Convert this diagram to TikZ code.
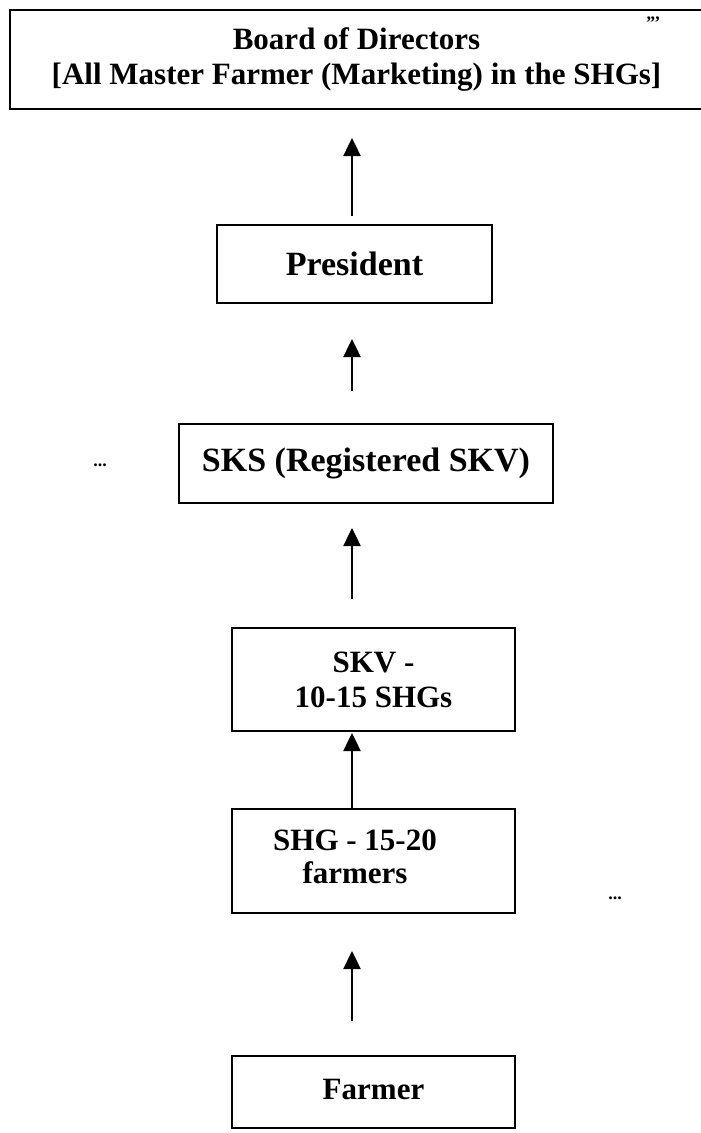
\documentclass[tikz,border=0pt]{standalone}
\usepackage{fontspec}
\setmainfont{Liberation Serif}
\usetikzlibrary{arrows.meta}
\begin{document}
\begin{tikzpicture}[x=1pt,y=-1pt,
  box/.style={draw=black, line width=2pt, rectangle, inner sep=0pt, align=center, font=\bfseries\fontsize{31}{35}\selectfont},
  bigtext/.style={font=\bfseries\fontsize{34}{36}\selectfont},
  lbl/.style={inner sep=0pt, align=center, font=\bfseries\fontsize{31}{33}\selectfont},
  arr/.style={line width=2.5pt, -{Triangle[width=17pt,length=18pt]}},
  dots/.style={inner sep=0pt, font=\bfseries\fontsize{18}{18}\selectfont}
]
\useasboundingbox (0,0) rectangle (701,1133);
\fill[white] (0,0) rectangle (701,1133);

\node[box, minimum width=693pt, minimum height=99pt] (board) at (356.5,59.5)
  {Board of Directors\\{}[All Master Farmer (Marketing) in the SHGs]};
\node[box, bigtext, minimum width=275pt, minimum height=78pt] (pres) at (354.5,264) {President};
\node[box, bigtext, minimum width=374pt, minimum height=79pt] (sks) at (366,463.5) {SKS (Registered SKV)};
\node[box, minimum width=283pt, minimum height=103pt] (skv) at (373.5,679.5) {SKV -\\10-15 SHGs};
\node[box, minimum width=283pt, minimum height=104pt] (shg) at (373.5,861) {};
\node[lbl] (shgt) at (355,857) {SHG - 15-20\\farmers};
\node[box, minimum width=283pt, minimum height=72pt] (farmer) at (373.5,1092) {\raisebox{5pt}{Farmer}};

\node[dots] (d1) at (653,20) {,,,};
\node[dots] (d2) at (100,465) {...};
\node[dots] (d3) at (615,898) {...};

\coordinate (ax) at (352,0);
\draw[arr, shorten <=8pt, shorten >=28pt] (pres.north -| ax) -- (board.south -| ax);
\draw[arr, shorten <=32pt, shorten >=35pt] (sks.north -| ax) -- (pres.south -| ax);
\draw[arr, shorten <=28pt, shorten >=24pt] (skv.north -| ax) -- (sks.south -| ax);
\draw[arr, shorten >=1pt] (shg.north -| ax) -- (skv.south -| ax);
\draw[arr, shorten <=34pt, shorten >=37pt] (farmer.north -| ax) -- (shg.south -| ax);
\end{tikzpicture}
\end{document}
